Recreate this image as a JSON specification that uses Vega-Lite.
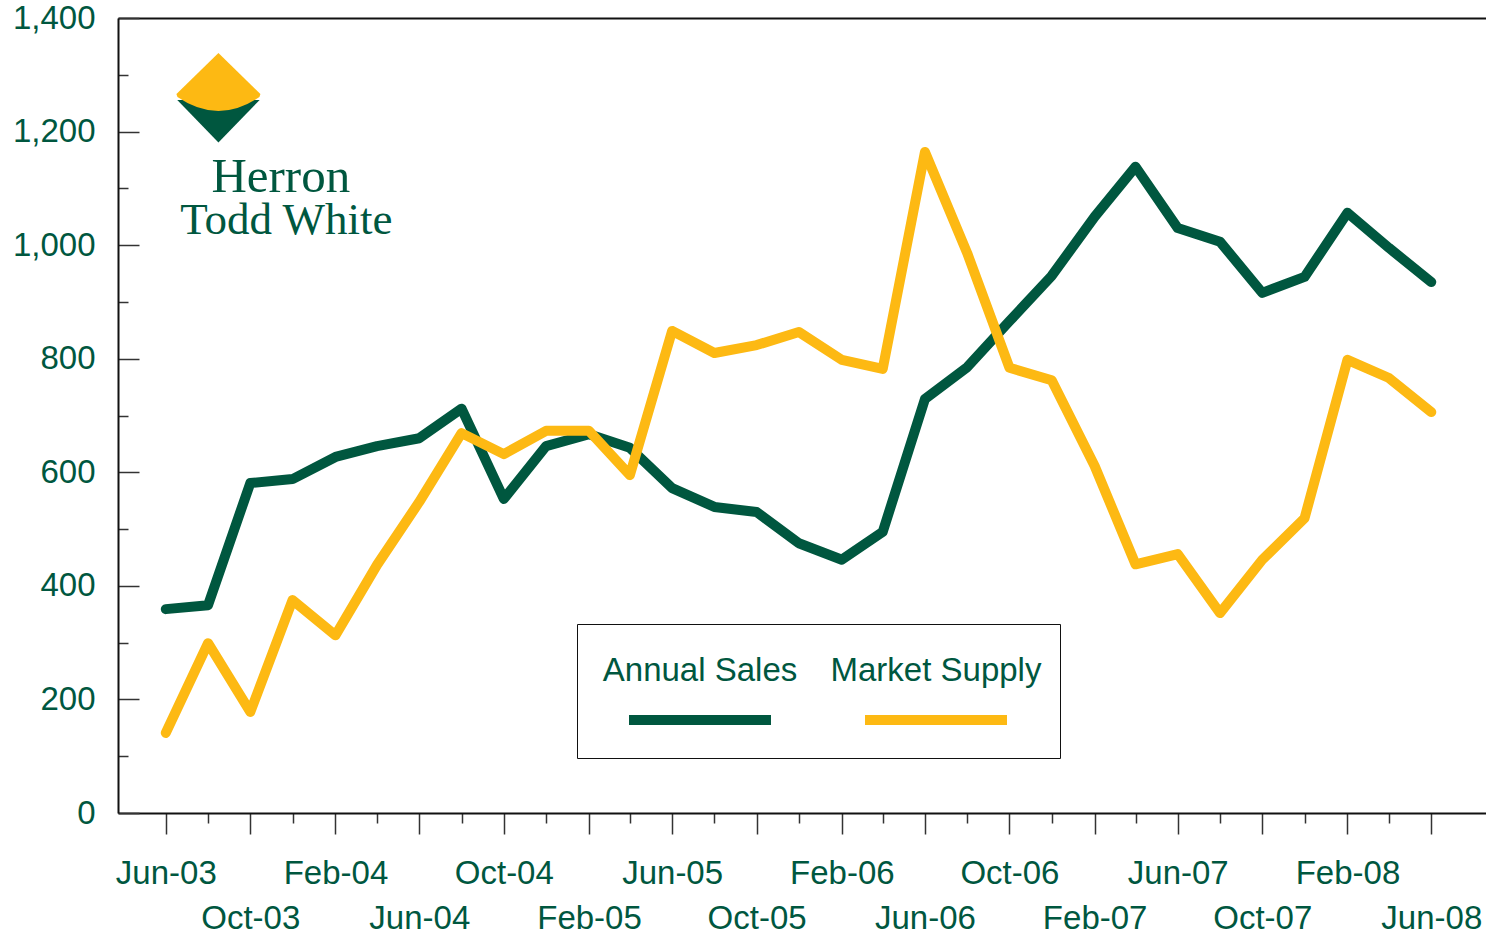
{
  "$schema": "https://vega.github.io/schema/vega-lite/v6.json",
  "width": 1368,
  "height": 795,
  "padding": {"left": 12, "top": 2, "right": 0, "bottom": 0},
  "background": "white",
  "config": {
    "view": {"stroke": null},
    "axis": {
      "labelFont": "Liberation Sans",
      "labelFontSize": 33,
      "labelColor": "#00573f",
      "domainColor": "#111111",
      "domainWidth": 2,
      "tickColor": "#333333",
      "tickWidth": 1.5,
      "grid": false,
      "title": null,
      "labelFlush": false,
      "labelOverlap": false,
      "labelBound": false
    }
  },
  "resolve": {"axis": {"x": "independent"}},
  "layer": [
    {
      "data": {
        "values": [
          {"date": "2003-06-01", "series": "Annual Sales", "value": 359},
          {"date": "2003-08-01", "series": "Annual Sales", "value": 366},
          {"date": "2003-10-01", "series": "Annual Sales", "value": 581},
          {"date": "2003-12-01", "series": "Annual Sales", "value": 588},
          {"date": "2004-02-01", "series": "Annual Sales", "value": 627},
          {"date": "2004-04-01", "series": "Annual Sales", "value": 646},
          {"date": "2004-06-01", "series": "Annual Sales", "value": 660},
          {"date": "2004-08-01", "series": "Annual Sales", "value": 712},
          {"date": "2004-10-01", "series": "Annual Sales", "value": 553},
          {"date": "2004-12-01", "series": "Annual Sales", "value": 646},
          {"date": "2005-02-01", "series": "Annual Sales", "value": 667},
          {"date": "2005-04-01", "series": "Annual Sales", "value": 643},
          {"date": "2005-06-01", "series": "Annual Sales", "value": 572},
          {"date": "2005-08-01", "series": "Annual Sales", "value": 539},
          {"date": "2005-10-01", "series": "Annual Sales", "value": 530},
          {"date": "2005-12-01", "series": "Annual Sales", "value": 475},
          {"date": "2006-02-01", "series": "Annual Sales", "value": 446},
          {"date": "2006-04-01", "series": "Annual Sales", "value": 495},
          {"date": "2006-06-01", "series": "Annual Sales", "value": 729},
          {"date": "2006-08-01", "series": "Annual Sales", "value": 785},
          {"date": "2006-10-01", "series": "Annual Sales", "value": 866},
          {"date": "2006-12-01", "series": "Annual Sales", "value": 946},
          {"date": "2007-02-01", "series": "Annual Sales", "value": 1050},
          {"date": "2007-04-01", "series": "Annual Sales", "value": 1138},
          {"date": "2007-06-01", "series": "Annual Sales", "value": 1030},
          {"date": "2007-08-01", "series": "Annual Sales", "value": 1006},
          {"date": "2007-10-01", "series": "Annual Sales", "value": 916},
          {"date": "2007-12-01", "series": "Annual Sales", "value": 944},
          {"date": "2008-02-01", "series": "Annual Sales", "value": 1057},
          {"date": "2008-04-01", "series": "Annual Sales", "value": 995},
          {"date": "2008-06-01", "series": "Annual Sales", "value": 935},
          {"date": "2003-06-01", "series": "Market Supply", "value": 141},
          {"date": "2003-08-01", "series": "Market Supply", "value": 299},
          {"date": "2003-10-01", "series": "Market Supply", "value": 178},
          {"date": "2003-12-01", "series": "Market Supply", "value": 375},
          {"date": "2004-02-01", "series": "Market Supply", "value": 313},
          {"date": "2004-04-01", "series": "Market Supply", "value": 437},
          {"date": "2004-06-01", "series": "Market Supply", "value": 548},
          {"date": "2004-08-01", "series": "Market Supply", "value": 669},
          {"date": "2004-10-01", "series": "Market Supply", "value": 632},
          {"date": "2004-12-01", "series": "Market Supply", "value": 673},
          {"date": "2005-02-01", "series": "Market Supply", "value": 673},
          {"date": "2005-04-01", "series": "Market Supply", "value": 595},
          {"date": "2005-06-01", "series": "Market Supply", "value": 849},
          {"date": "2005-08-01", "series": "Market Supply", "value": 810},
          {"date": "2005-10-01", "series": "Market Supply", "value": 824},
          {"date": "2005-12-01", "series": "Market Supply", "value": 847},
          {"date": "2006-02-01", "series": "Market Supply", "value": 798},
          {"date": "2006-04-01", "series": "Market Supply", "value": 782},
          {"date": "2006-06-01", "series": "Market Supply", "value": 1164},
          {"date": "2006-08-01", "series": "Market Supply", "value": 986},
          {"date": "2006-10-01", "series": "Market Supply", "value": 784},
          {"date": "2006-12-01", "series": "Market Supply", "value": 762},
          {"date": "2007-02-01", "series": "Market Supply", "value": 611},
          {"date": "2007-04-01", "series": "Market Supply", "value": 438},
          {"date": "2007-06-01", "series": "Market Supply", "value": 456},
          {"date": "2007-08-01", "series": "Market Supply", "value": 352},
          {"date": "2007-10-01", "series": "Market Supply", "value": 446},
          {"date": "2007-12-01", "series": "Market Supply", "value": 519},
          {"date": "2008-02-01", "series": "Market Supply", "value": 798},
          {"date": "2008-04-01", "series": "Market Supply", "value": 766},
          {"date": "2008-06-01", "series": "Market Supply", "value": 706}
        ]
      },
      "mark": {"type": "line", "strokeWidth": 10, "strokeCap": "round", "strokeJoin": "round"},
      "encoding": {
        "x": {
          "field": "date",
          "type": "temporal",
          "scale": {
            "type": "utc",
            "domain": [
              {"year": 2003, "month": 3, "date": 24, "utc": true},
              {"year": 2008, "month": 8, "date": 19, "utc": true}
            ]
          },
          "axis": {
            "orient": "bottom",
            "values": [
              {"year": 2003, "month": 6, "date": 1, "utc": true},
              {"year": 2003, "month": 8, "date": 1, "utc": true},
              {"year": 2003, "month": 10, "date": 1, "utc": true},
              {"year": 2003, "month": 12, "date": 1, "utc": true},
              {"year": 2004, "month": 2, "date": 1, "utc": true},
              {"year": 2004, "month": 4, "date": 1, "utc": true},
              {"year": 2004, "month": 6, "date": 1, "utc": true},
              {"year": 2004, "month": 8, "date": 1, "utc": true},
              {"year": 2004, "month": 10, "date": 1, "utc": true},
              {"year": 2004, "month": 12, "date": 1, "utc": true},
              {"year": 2005, "month": 2, "date": 1, "utc": true},
              {"year": 2005, "month": 4, "date": 1, "utc": true},
              {"year": 2005, "month": 6, "date": 1, "utc": true},
              {"year": 2005, "month": 8, "date": 1, "utc": true},
              {"year": 2005, "month": 10, "date": 1, "utc": true},
              {"year": 2005, "month": 12, "date": 1, "utc": true},
              {"year": 2006, "month": 2, "date": 1, "utc": true},
              {"year": 2006, "month": 4, "date": 1, "utc": true},
              {"year": 2006, "month": 6, "date": 1, "utc": true},
              {"year": 2006, "month": 8, "date": 1, "utc": true},
              {"year": 2006, "month": 10, "date": 1, "utc": true},
              {"year": 2006, "month": 12, "date": 1, "utc": true},
              {"year": 2007, "month": 2, "date": 1, "utc": true},
              {"year": 2007, "month": 4, "date": 1, "utc": true},
              {"year": 2007, "month": 6, "date": 1, "utc": true},
              {"year": 2007, "month": 8, "date": 1, "utc": true},
              {"year": 2007, "month": 10, "date": 1, "utc": true},
              {"year": 2007, "month": 12, "date": 1, "utc": true},
              {"year": 2008, "month": 2, "date": 1, "utc": true},
              {"year": 2008, "month": 4, "date": 1, "utc": true},
              {"year": 2008, "month": 6, "date": 1, "utc": true}
            ],
            "labelExpr": "((utcyear(datum.value)-2003)*12+utcmonth(datum.value)-5) % 8 === 0 ? utcFormat(datum.value, '%b-%y') : (((utcyear(datum.value)-2003)*12+utcmonth(datum.value)-5) % 8 === 4 ? ['', utcFormat(datum.value, '%b-%y')] : '')",
            "tickSize": {"condition": {"test": "((utcyear(datum.value)-2003)*12+utcmonth(datum.value)-5) % 4 === 0", "value": 21}, "value": 10},
            "labelPadding": 23,
            "labelLineHeight": 45,
            "labelBaseline": "top",
            "labelAlign": "center"
          }
        },
        "y": {
          "field": "value",
          "type": "quantitative",
          "scale": {"domain": [0, 1400], "nice": false},
          "axis": {
            "values": [0, 100, 200, 300, 400, 500, 600, 700, 800, 900, 1000, 1100, 1200, 1300, 1400],
            "labelExpr": "datum.value % 200 === 0 ? format(datum.value, ',') : ''",
            "tickSize": {"condition": {"test": "datum.value % 200 === 0", "value": -21}, "value": -10},
            "labelPadding": 44
          }
        },
        "color": {
          "field": "series",
          "type": "nominal",
          "scale": {"domain": ["Annual Sales", "Market Supply"], "range": ["#00573f", "#fdb913"]},
          "legend": {
            "orient": "none",
            "legendX": 459,
            "legendY": 606,
            "direction": "horizontal",
            "columns": 2,
            "title": null,
            "symbolType": "M-2.088,1.147 L2.088,1.147",
            "symbolSize": 4624,
            "symbolStrokeWidth": 10,
            "symbolOffset": 66,
            "labelFont": "Liberation Sans",
            "labelFontSize": 33,
            "labelColor": "#00573f",
            "labelAlign": "center",
            "labelOffset": -39,
            "labelBaseline": "alphabetic",
            "labelLimit": 0,
            "padding": 18,
            "columnPadding": 32,
            "strokeColor": "#111111",
            "fillColor": "white"
          }
        }
      }
    },
    {
      "data": {"values": [{}]},
      "mark": {"type": "point", "filled": true, "fill": "#00573f", "strokeWidth": 0, "opacity": 1, "size": 8100, "shape": "M-0.915,0.044 L0.915,0.044 L0,0.99 Z"},
      "encoding": {
        "x": {"datum": {"year": 2003, "month": 8, "date": 16, "utc": true}, "type": "temporal",
          "axis": {"orient": "top", "ticks": false, "labels": false, "domain": true, "domainWidth": 2, "domainColor": "#111111", "values": []}},
        "y": {"datum": 1259, "type": "quantitative"}
      }
    },
    {
      "data": {"values": [{}]},
      "mark": {"type": "point", "filled": true, "fill": "#fdb913", "strokeWidth": 0, "opacity": 1, "size": 8100, "shape": "M0,-1 L0.933,-0.089 L0.911,-0.022 Q0,0.6 -0.911,-0.022 L-0.933,-0.089 Z"},
      "encoding": {
        "x": {"datum": {"year": 2003, "month": 8, "date": 16, "utc": true}, "type": "temporal", "axis": null},
        "y": {"datum": 1259, "type": "quantitative"}
      }
    },
    {
      "data": {"values": [{}]},
      "mark": {"type": "text", "text": "Herron", "font": "Liberation Serif", "fontSize": 49, "color": "#00573f", "align": "center", "baseline": "alphabetic"},
      "encoding": {
        "x": {"datum": {"year": 2003, "month": 11, "date": 14, "utc": true}, "type": "temporal", "axis": null},
        "y": {"datum": 1094, "type": "quantitative"}
      }
    },
    {
      "data": {"values": [{}]},
      "mark": {"type": "text", "text": "Todd White", "font": "Liberation Serif", "fontSize": 45, "color": "#00573f", "align": "center", "baseline": "alphabetic"},
      "encoding": {
        "x": {"datum": {"year": 2003, "month": 11, "date": 22, "utc": true}, "type": "temporal", "axis": null},
        "y": {"datum": 1020, "type": "quantitative"}
      }
    }
  ]
}
